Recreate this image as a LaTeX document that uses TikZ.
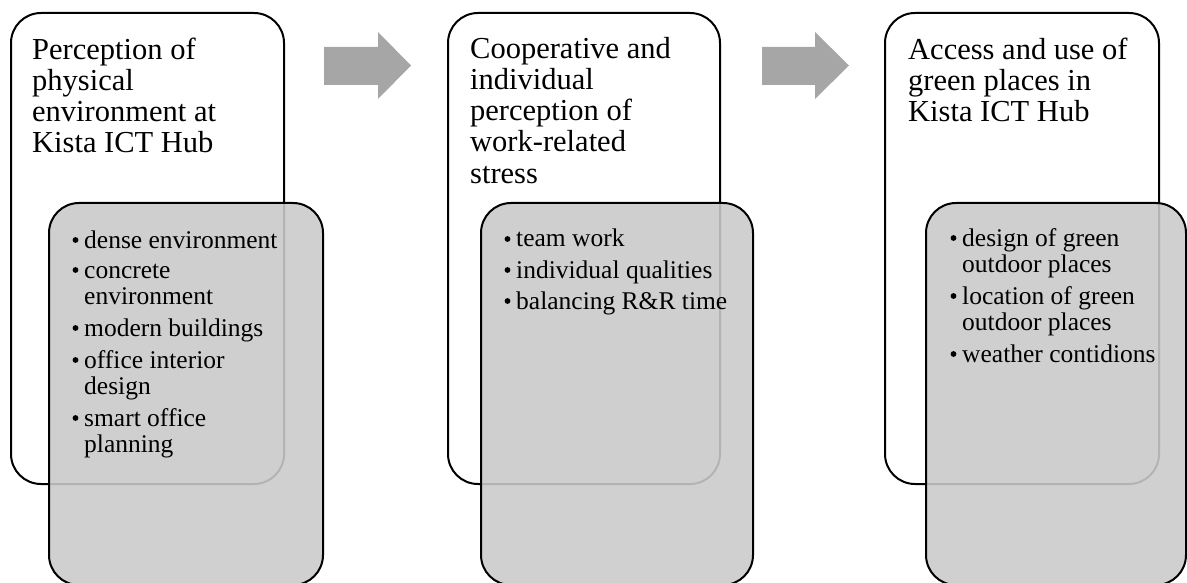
\documentclass[tikz,border=0pt]{standalone}
\usepackage{fontspec}
\setmainfont{Liberation Serif}
\definecolor{arrowgray}{HTML}{A6A6A6}
\definecolor{boxgray}{HTML}{CACACA}
\newcommand\tline[5]{\node[#1,anchor=base west] (#2) at (#3,#4) {#5};}
\newcommand\bdot[2]{\fill (#1-8.5,#2-8) circle (2.9pt);}
\begin{document}
\begin{tikzpicture}[x=1pt,y=-1pt,
  whitebox/.style={draw=black,line width=2pt,fill=white,rounded corners=30pt,anchor=north west,inner sep=0pt},
  greybox/.style={draw=black,line width=2pt,fill=boxgray,fill opacity=0.89,rounded corners=30pt,anchor=north west,inner sep=0pt},
  ttl/.style={font=\fontsize{30.5}{31}\selectfont,inner sep=0pt,text=black},
  itm/.style={font=\fontsize{25.5}{26}\selectfont,inner sep=0pt,text=black},
  blockarrow/.style={fill=arrowgray}]
\useasboundingbox (0,0) rectangle (1187,583);
% ---------- box 1
\node[whitebox,minimum width=273pt,minimum height=471pt] (w1) at (10,12) {};
\node[greybox,minimum width=274pt,minimum height=382pt] (g1) at (48,202) {};
\tline{ttl}{t1a}{32}{60}{Perception of}
\tline{ttl}{t1b}{32}{91}{physical}
\tline{ttl}{t1c}{32}{122}{environment at}
\tline{ttl}{t1d}{32}{153}{Kista ICT Hub}
\tline{itm}{i1a}{84}{248}{dense environment}\bdot{84}{248}
\tline{itm}{i1b}{84}{278}{concrete}\bdot{84}{278}
\tline{itm}{i1c}{84}{304}{environment}
\tline{itm}{i1d}{84}{336}{modern buildings}\bdot{84}{336}
\tline{itm}{i1e}{84}{368}{office interior}\bdot{84}{368}
\tline{itm}{i1f}{84}{394}{design}
\tline{itm}{i1g}{84}{426}{smart office}\bdot{84}{426}
\tline{itm}{i1h}{84}{452}{planning}
% ---------- box 2
\node[whitebox,minimum width=272pt,minimum height=471pt] (w2) at (447,12) {};
\node[greybox,minimum width=272pt,minimum height=382pt] (g2) at (480,202) {};
\tline{ttl}{t2a}{470}{59}{Cooperative and}
\tline{ttl}{t2b}{470}{90}{individual}
\tline{ttl}{t2c}{470}{121}{perception of}
\tline{ttl}{t2d}{470}{152}{work-related}
\tline{ttl}{t2e}{470}{184}{stress}
\tline{itm}{i2a}{516}{247}{team work}\bdot{516}{247}
\tline{itm}{i2b}{516}{278}{individual qualities}\bdot{516}{278}
\tline{itm}{i2c}{516}{309}{balancing R\&R time}\bdot{516}{309}
% ---------- box 3
\node[whitebox,minimum width=274pt,minimum height=471pt] (w3) at (884,12) {};
\node[greybox,minimum width=260pt,minimum height=382pt] (g3) at (925,202) {};
\tline{ttl}{t3a}{908}{60}{Access and use of}
\tline{ttl}{t3b}{908}{91}{green places in}
\tline{ttl}{t3c}{908}{122}{Kista ICT Hub}
\tline{itm}{i3a}{962}{246}{design of green}\bdot{962}{246}
\tline{itm}{i3b}{962}{272}{outdoor places}
\tline{itm}{i3c}{962}{304}{location of green}\bdot{962}{304}
\tline{itm}{i3d}{962}{330}{outdoor places}
\tline{itm}{i3e}{962}{362}{weather contidions}\bdot{962}{362}
% ---------- arrows
\fill[blockarrow] (324,47) -- (378,47) -- (378,32) -- (411,65.5) -- (378,99) -- (378,85) -- (324,85) -- cycle;
\fill[blockarrow] (762,47) -- (815,47) -- (815,32) -- (849,65.5) -- (815,99) -- (815,85) -- (762,85) -- cycle;
\end{tikzpicture}
\end{document}
